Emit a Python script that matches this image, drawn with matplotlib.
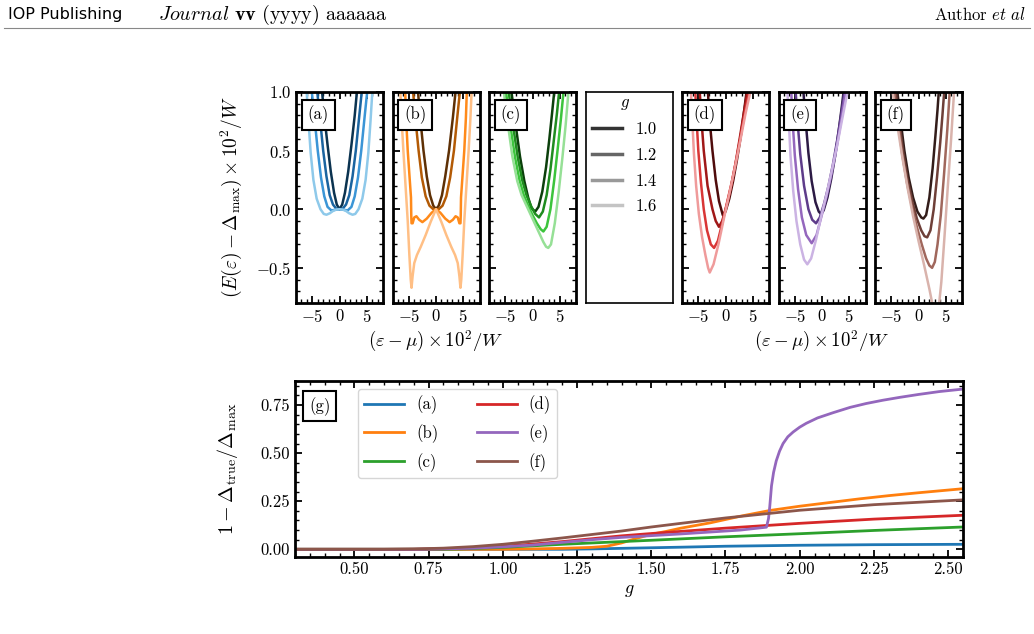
import matplotlib
matplotlib.use("Agg")
import matplotlib.pyplot as plt
from matplotlib.lines import Line2D
from matplotlib.ticker import MultipleLocator, FormatStrFormatter

plt.rcParams['font.family'] = 'serif'
plt.rcParams['font.serif'] = ['cmr10']
plt.rcParams['mathtext.fontset'] = 'cm'
plt.rcParams['axes.formatter.use_mathtext'] = True
plt.rcParams['axes.unicode_minus'] = True
plt.rcParams['font.size'] = 12

# ---- data ----
g_values = ['1.0', '1.2', '1.4', '1.6']
legend_grays = ['#333333', '#666666', '#999999', '#c4c4c4']

a_x = [[-3.3, -2.8, -2.2, -1.6, -1.0, -0.5, 0, 0.5, 1.0, 1.6, 2.2, 2.8, 3.3],
       [-4.2, -3.6, -3.0, -2.4, -1.8, -1.2, -0.6, 0, 0.6, 1.2, 1.8, 2.4, 3.0, 3.6, 4.2],
       [-5.2, -4.6, -4.0, -3.4, -2.8, -2.2, -1.5, -0.8, 0, 0.8, 1.5, 2.2, 2.8, 3.4, 4.0, 4.6, 5.2],
       [-6.1, -5.7, -5.3, -4.8, -4.2, -3.5, -2.9, -2.4, -1.8, -1.2, -0.6, 0,
        0.6, 1.2, 1.8, 2.4, 2.9, 3.5, 4.2, 4.8, 5.3, 5.7, 6.1]]
a_y = [[1.05, 0.8, 0.55, 0.32, 0.14, 0.04, 0, 0.04, 0.14, 0.32, 0.55, 0.8, 1.05],
       [1.05, 0.78, 0.5, 0.28, 0.12, 0.04, 0.005, 0, 0.005, 0.04, 0.12, 0.28, 0.5, 0.78, 1.05],
       [1.05, 0.78, 0.5, 0.27, 0.11, 0.02, -0.01, -0.005, 0, -0.005, -0.01, 0.02, 0.11, 0.27, 0.5, 0.78, 1.05],
       [1.05, 0.75, 0.48, 0.25, 0.09, 0.0, -0.04, -0.047, -0.035, -0.015, -0.003, 0,
        -0.003, -0.015, -0.035, -0.047, -0.04, 0.0, 0.09, 0.25, 0.48, 0.75, 1.05]]

b_x = [[-3.4, -2.9, -2.3, -1.7, -1.1, -0.5, 0, 0.5, 1.1, 1.7, 2.4, 3.1, 3.7],
       [-4.3, -3.8, -3.2, -2.6, -1.9, -1.2, -0.5, 0, 0.5, 1.2, 1.9, 2.6, 3.3, 3.9, 4.5],
       [-5.7, -5.5, -5.2, -4.9, -4.6, -4.55, -4.5, -4.3, -4.0, -3.6, -3.1, -2.5, -1.7, -0.8, 0,
        0.8, 1.7, 2.5, 3.1, 3.6, 4.0, 4.3, 4.5, 4.55, 4.6, 4.9, 5.2, 5.5, 5.7],
       [-6.6, -6.3, -6.0, -5.6, -5.2, -4.9, -4.65, -4.5, -4.3, -4.0, -3.5, -2.8, -1.9, -1.0, 0,
        1.0, 1.9, 2.8, 3.5, 4.0, 4.3, 4.5, 4.65, 4.9, 5.2, 5.6, 6.0, 6.3, 6.6]]
b_y = [[1.05, 0.78, 0.5, 0.28, 0.12, 0.03, 0, 0.03, 0.12, 0.28, 0.5, 0.78, 1.05],
       [1.05, 0.78, 0.5, 0.27, 0.11, 0.03, 0.0, 0, 0.0, 0.03, 0.11, 0.27, 0.5, 0.78, 1.05],
       [1.05, 0.78, 0.5, 0.3, 0.1, -0.05, -0.12, -0.12, -0.07, -0.06, -0.09, -0.11, -0.08, -0.03, 0,
        -0.03, -0.08, -0.11, -0.09, -0.06, -0.07, -0.12, -0.12, -0.05, 0.1, 0.3, 0.5, 0.78, 1.05],
       [1.05, 0.75, 0.5, 0.2, -0.1, -0.39, -0.6, -0.67, -0.57, -0.46, -0.39, -0.32, -0.22, -0.11, 0,
        -0.11, -0.22, -0.32, -0.39, -0.46, -0.57, -0.67, -0.6, -0.39, -0.1, 0.2, 0.5, 0.75, 1.05]]

c_x = [[-4.0, -3.1, -2.3, -1.5, -0.8, -0.2, 0.5, 1.1, 1.8, 2.5, 3.1, 3.6, 4.1],
       [-4.5, -3.6, -2.7, -1.9, -1.1, -0.3, 0.5, 1.2, 1.9, 2.6, 3.3, 3.9, 4.5, 5.0],
       [-5.0, -4.1, -3.2, -2.4, -1.6, -0.8, 0, 0.8, 1.5, 2.0, 2.6, 3.3, 4.0, 4.6, 5.2, 5.8],
       [-5.4, -4.6, -3.7, -2.8, -2.0, -1.2, -0.4, 0.4, 1.2, 2.0, 2.5, 2.9, 3.4, 4.1, 4.8, 5.5, 6.1, 6.7]]
c_y = [[1.05, 0.72, 0.45, 0.24, 0.1, 0.01, -0.02, 0.02, 0.15, 0.36, 0.6, 0.82, 1.05],
       [1.05, 0.72, 0.44, 0.25, 0.12, 0.03, -0.04, -0.07, -0.02, 0.12, 0.34, 0.58, 0.82, 1.05],
       [1.05, 0.72, 0.44, 0.25, 0.12, 0.03, -0.05, -0.12, -0.17, -0.19, -0.15, 0.0, 0.25, 0.5, 0.76, 1.05],
       [1.05, 0.75, 0.45, 0.24, 0.12, 0.04, -0.04, -0.12, -0.2, -0.28, -0.32, -0.33, -0.3, -0.12,
        0.14, 0.44, 0.72, 1.05]]

d_x = [[-3.3, -2.9, -2.4, -1.8, -1.2, -0.5, 0.0, 0.7, 1.4, 2.1, 2.8, 3.4, 4.0],
       [-4.8, -4.4, -4.0, -3.3, -2.4, -1.8, -1.2, -0.6, 0.2, 1.0, 1.8, 2.6, 3.4, 4.2],
       [-5.6, -5.3, -5.0, -4.5, -4.0, -3.4, -2.7, -2.1, -1.4, -0.6, 0.3, 1.2, 2.1, 3.0, 3.8, 4.6],
       [-6.4, -6.1, -5.8, -5.4, -4.9, -4.3, -3.7, -3.2, -2.9, -2.2, -1.3, -0.3, 0.7, 1.7, 2.7,
        3.7, 4.8]]
d_y = [[1.05, 0.75, 0.5, 0.25, 0.07, -0.05, -0.02, 0.09, 0.24, 0.42, 0.62, 0.83, 1.05],
       [1.05, 0.75, 0.5, 0.2, 0.0, -0.1, -0.15, -0.1, 0.03, 0.19, 0.38, 0.6, 0.83, 1.05],
       [1.05, 0.75, 0.5, 0.22, 0.0, -0.18, -0.3, -0.33, -0.27, -0.12, 0.06, 0.24, 0.45, 0.68, 0.88,
        1.05],
       [1.05, 0.75, 0.47, 0.2, -0.04, -0.24, -0.39, -0.5, -0.54, -0.47, -0.3, -0.08, 0.13, 0.35,
        0.58, 0.82, 1.05]]

e_x = [[-3.5, -3.0, -2.5, -1.9, -1.2, -0.6, -0.2, 0.3, 1.0, 1.7, 2.4, 3.1, 3.6, 4.1],
       [-4.9, -4.5, -4.0, -3.3, -2.5, -1.8, -1.1, -0.4, 0.4, 1.2, 2.0, 2.8, 3.5, 4.3],
       [-5.7, -5.4, -5.0, -4.4, -3.7, -2.9, -1.9, -1.0, -0.1, 0.8, 1.7, 2.6, 3.5, 4.5],
       [-6.4, -6.1, -5.8, -5.3, -4.7, -4.0, -3.3, -2.7, -2.0, -1.1, -0.2, 0.8, 1.8, 2.8, 3.8, 4.9]]
e_y = [[1.05, 0.75, 0.48, 0.24, 0.06, -0.02, -0.04, -0.01, 0.1, 0.26, 0.45, 0.68, 0.86, 1.05],
       [1.05, 0.75, 0.47, 0.2, 0.0, -0.09, -0.12, -0.07, 0.05, 0.2, 0.38, 0.59, 0.8, 1.05],
       [1.05, 0.75, 0.46, 0.17, -0.07, -0.22, -0.29, -0.22, -0.06, 0.1, 0.29, 0.5, 0.75, 1.05],
       [1.05, 0.75, 0.46, 0.16, -0.1, -0.3, -0.43, -0.47, -0.42, -0.26, -0.07, 0.12, 0.33, 0.55,
        0.79, 1.05]]

f_x = [[-4.0, -3.3, -2.6, -1.8, -1.0, -0.2, 0.5, 0.9, 1.4, 2.0, 2.6, 3.1, 3.5, 3.8],
       [-4.3, -3.6, -2.8, -2.0, -1.1, -0.3, 0.5, 1.1, 1.6, 2.2, 2.8, 3.4, 4.0, 4.4, 4.8],
       [-4.6, -3.8, -3.0, -2.1, -1.2, -0.3, 0.6, 1.4, 2.0, 2.5, 3.0, 3.5, 4.1, 4.7, 5.3, 5.8],
       [-4.9, -4.0, -3.0, -2.0, -1.0, 0.0, 1.0, 2.0, 2.6, 3.2, 3.7, 4.2, 4.8, 5.4, 6.0, 6.6]]
f_y = [[1.05, 0.76, 0.5, 0.27, 0.1, -0.02, -0.07, -0.08, -0.05, 0.1, 0.35, 0.62, 0.85, 1.05],
       [1.05, 0.76, 0.48, 0.25, 0.06, -0.08, -0.18, -0.23, -0.24, -0.18, 0.0, 0.27, 0.57, 0.8, 1.05],
       [1.05, 0.76, 0.47, 0.22, 0.02, -0.15, -0.3, -0.42, -0.48, -0.5, -0.45, -0.3, -0.05, 0.3,
        0.68, 1.05],
       [1.05, 0.75, 0.45, 0.18, -0.06, -0.27, -0.47, -0.68, -0.82, -0.95, -0.85, -0.62, -0.22, 0.2,
        0.6, 1.05]]

a_colors = ['#0b3350', '#1a64a0', '#3b95d6', '#8ec9ea']
b_colors = ['#5e3005', '#b35a05', '#ff8a1a', '#ffbf85']
c_colors = ['#0c400c', '#1f8c1f', '#3cc43c', '#96e096']
d_colors = ['#4f0c0c', '#a01818', '#d93636', '#ef9b9b']
e_colors = ['#2c1a44', '#5e3c8a', '#9467bd', '#cbb3e3']
f_colors = ['#331d1a', '#6e3f38', '#a0675c', '#d9b3ac']

# panel (g)
ga_x = [0.3, 1.2, 1.3, 1.4, 1.5, 1.6, 1.75, 2.0, 2.25, 2.55]
ga_y = [0.0, 0.0, 0.002, 0.005, 0.008, 0.011, 0.016, 0.021, 0.024, 0.026]
gb_x = [0.3, 1.0, 1.1, 1.2, 1.3, 1.35, 1.4, 1.45, 1.5, 1.55, 1.6, 1.7, 1.8, 1.9, 2.0, 2.1, 2.2,
        2.3, 2.4, 2.55]
gb_y = [0.0, 0.0, 0.002, 0.005, 0.01, 0.016, 0.033, 0.057, 0.078, 0.093, 0.11, 0.138, 0.172,
        0.202, 0.224, 0.243, 0.262, 0.279, 0.294, 0.315]
gc_x = [0.3, 0.8, 0.9, 1.0, 1.1, 1.2, 1.3, 1.4, 1.5, 1.75, 2.0, 2.25, 2.55]
gc_y = [0.0, 0.0, 0.004, 0.01, 0.018, 0.026, 0.033, 0.04, 0.047, 0.065, 0.081, 0.098, 0.116]
gd_x = [0.3, 0.7, 0.8, 0.9, 1.0, 1.1, 1.2, 1.3, 1.4, 1.5, 1.75, 2.0, 2.25, 2.55]
gd_y = [0.0, 0.0, 0.003, 0.008, 0.016, 0.027, 0.04, 0.055, 0.07, 0.082, 0.11, 0.135, 0.157, 0.177]
ge_x = [0.3, 0.7, 0.8, 0.9, 1.0, 1.1, 1.2, 1.3, 1.4, 1.5, 1.6, 1.7, 1.8, 1.888, 1.895, 1.899,
        1.905, 1.912, 1.921, 1.932, 1.944, 1.96, 1.978, 2.0, 2.022, 2.06, 2.112, 2.17, 2.224,
        2.28, 2.337, 2.4, 2.47, 2.55]
ge_y = [0.0, 0.0, 0.002, 0.006, 0.013, 0.022, 0.036, 0.05, 0.062, 0.071, 0.08, 0.09, 0.1, 0.115,
        0.16, 0.22, 0.33, 0.4, 0.46, 0.51, 0.55, 0.585, 0.61, 0.635, 0.655, 0.683, 0.71, 0.738,
        0.758, 0.775, 0.79, 0.805, 0.82, 0.833]
gf_x = [0.3, 0.6, 0.7, 0.8, 0.9, 1.0, 1.1, 1.2, 1.3, 1.4, 1.5, 1.6, 1.75, 2.0, 2.25, 2.55]
gf_y = [0.0, 0.0, 0.002, 0.006, 0.014, 0.026, 0.042, 0.059, 0.077, 0.095, 0.116, 0.135, 0.163,
        0.203, 0.232, 0.257]
g_labels = ['(a)', '(b)', '(c)', '(d)', '(e)', '(f)']
g_colors = ['#1f77b4', '#ff7f0e', '#2ca02c', '#d62728', '#9467bd', '#8c564b']

# ---- layout (pixels) ----
W, H = 1034, 634


def px(left, top, width, height):
    return [left / W, 1 - (top + height) / H, width / W, height / H]


def style(ax, lw=2.0):
    for s in ax.spines.values():
        s.set_linewidth(lw)
    ax.tick_params(which='both', direction='in', top=True, right=True)
    ax.tick_params(which='major', length=5, width=1.3)
    ax.tick_params(which='minor', length=3, width=1.0)


def tag(ax, s, x, y):
    ax.text(x, y, s, transform=ax.transAxes, ha='left', va='top', fontsize=12,
            bbox=dict(boxstyle='square,pad=0.35', fc='white', ec='black', lw=1.5), zorder=5)


fig = plt.figure(figsize=(W / 100, H / 100), dpi=100)

# page header
fig.text(8 / W, 1 - 15 / H, 'IOP Publishing', family='DejaVu Sans', fontsize=11.5, va='center')
fig.text(158 / W, 1 - 15 / H, r'$\mathit{Journal}\ \mathbf{vv}\ \mathrm{(yyyy)\ aaaaaa}$',
         fontsize=14.5, va='center')
fig.text(1026 / W, 1 - 15 / H, r'Author $\mathit{et\ al}$', fontsize=12, va='center', ha='right')
fig.add_artist(Line2D([4 / W, 1030 / W], [1 - 28 / H, 1 - 28 / H], color='#888888', lw=0.8))

panels = [('(a)', a_x, a_y, a_colors), ('(b)', b_x, b_y, b_colors), ('(c)', c_x, c_y, c_colors),
          None, ('(d)', d_x, d_y, d_colors), ('(e)', e_x, e_y, e_colors), ('(f)', f_x, f_y, f_colors)]

for i, p in enumerate(panels):
    ax = fig.add_axes(px(296 + i * 96.5, 92, 87, 211))
    if p is None:
        ax.set_xticks([])
        ax.set_yticks([])
        for s in ax.spines.values():
            s.set_linewidth(1.2)
        handles = [Line2D([], [], color=c, lw=2.5) for c in legend_grays]
        ax.legend(handles, g_values, title=r'$g$', loc='upper center',
                  bbox_to_anchor=(0.45, 1.06), frameon=False, fontsize=12, title_fontsize=12,
                  handlelength=1.8, handletextpad=0.8, labelspacing=0.62)
        continue
    name, xs, ys, cols = p
    for x, y, c in zip(xs, ys, cols):
        ax.plot(x, y, color=c, lw=1.8)
    ax.set_xlim(-8, 8)
    ax.set_ylim(-0.8, 1.0)
    ax.xaxis.set_major_locator(MultipleLocator(5))
    ax.xaxis.set_minor_locator(MultipleLocator(1))
    ax.yaxis.set_major_locator(MultipleLocator(0.5))
    ax.yaxis.set_minor_locator(MultipleLocator(0.1))
    style(ax)
    tag(ax, name, 0.135, 0.935)
    if i == 0:
        ax.set_ylabel(r'$(E(\varepsilon)-\Delta_{\max})\times 10^2/W$', fontsize=14)
        ax.yaxis.set_label_coords(-0.6, 0.5)
    else:
        ax.tick_params(labelleft=False)
    if i in (1, 5):
        ax.set_xlabel(r'$(\varepsilon-\mu)\times 10^2/W$', fontsize=13.5, labelpad=3)

# panel (g)
ax = fig.add_axes(px(295, 381, 668, 176))
for x, y, c, lab in zip([ga_x, gb_x, gc_x, gd_x, ge_x, gf_x], [ga_y, gb_y, gc_y, gd_y, ge_y, gf_y],
                        g_colors, g_labels):
    ax.plot(x, y, color=c, lw=2.0, label=lab)
ax.set_xlim(0.3, 2.55)
ax.set_ylim(-0.04, 0.875)
ax.xaxis.set_major_locator(MultipleLocator(0.25))
ax.xaxis.set_minor_locator(MultipleLocator(0.05))
ax.yaxis.set_major_locator(MultipleLocator(0.25))
ax.yaxis.set_minor_locator(MultipleLocator(0.05))
ax.xaxis.set_major_formatter(FormatStrFormatter('%.2f'))
ax.yaxis.set_major_formatter(FormatStrFormatter('%.2f'))
style(ax)
tag(ax, '(g)', 0.021, 0.91)
ax.legend(ncol=2, loc='upper left', bbox_to_anchor=(0.094, 0.955), borderaxespad=0,
          fontsize=12, handlelength=2.4, handletextpad=0.7, columnspacing=2.3, labelspacing=0.6,
          fancybox=True, framealpha=0.8, edgecolor='#cccccc')
ax.set_ylabel(r'$1-\Delta_{\rm true}/\Delta_{\max}$', fontsize=14.5)
ax.yaxis.set_label_coords(-0.082, 0.5)
ax.set_xlabel(r'$g$', fontsize=13, labelpad=4)

fig.savefig('out.png', dpi=100)
